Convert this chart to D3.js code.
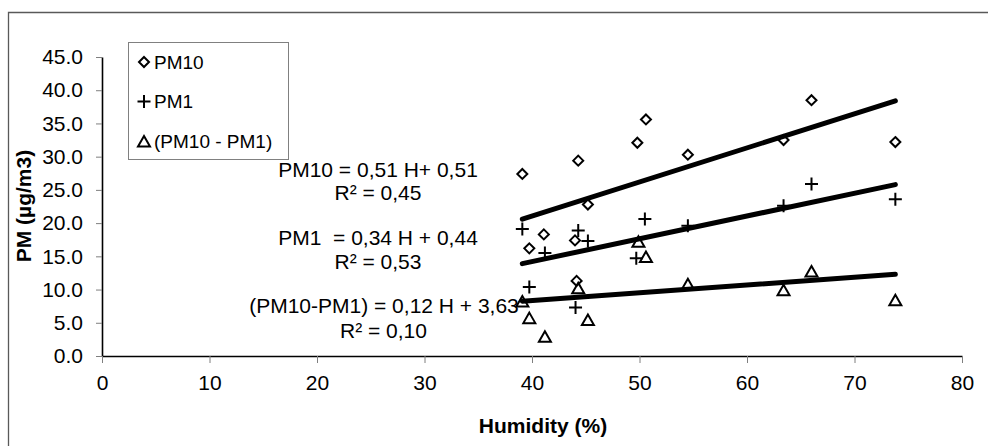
<!DOCTYPE html>
<html>
<head>
<meta charset="utf-8">
<script src="https://cdn.jsdelivr.net/npm/d3@7/dist/d3.min.js"></script>
<style>
  html, body { margin: 0; padding: 0; background: #fff; }
  svg { display: block; font-family: "Liberation Sans", Arial, sans-serif; }
  text { white-space: pre; }
</style>
</head>
<body>
<svg id="chart" width="988" height="446"></svg>
<script>
// ---- Data ----
const xTicks = [0, 10, 20, 30, 40, 50, 60, 70, 80];
const yTicks = [0, 5, 10, 15, 20, 25, 30, 35, 40, 45];

const pm10H   = [39.1, 39.75, 41.1, 44.0, 44.15, 44.3, 45.2, 49.8, 50.6, 54.5, 63.4, 66.0, 73.8];
const pm10Val = [27.4, 16.2, 18.3, 17.4, 11.3, 29.4, 22.8, 32.1, 35.6, 30.3, 32.5, 38.5, 32.2];

const pm1H    = [39.1, 39.75, 41.2, 44.05, 44.3, 45.2, 49.7, 50.5, 54.5, 63.4, 66.0, 73.8];
const pm1Val  = [19.1, 10.4, 15.5, 7.3, 18.9, 17.3, 14.7, 20.6, 19.6, 22.6, 25.9, 23.6];

const diffH   = [39.1, 39.75, 41.2, 44.3, 45.2, 49.9, 50.6, 54.5, 63.4, 66.0, 73.8];
const diffVal = [8.2, 5.7, 2.9, 10.2, 5.4, 17.2, 14.9, 10.8, 9.9, 12.7, 8.4];

// Linear trend lines (start / end values)
const trendNames = ["PM10", "PM1", "(PM10 - PM1)"];
const trendH     = [39.1, 73.8];
const trendStart = [20.6, 13.9, 8.25];
const trendEnd   = [38.4, 25.8, 12.3];

const eqLines = [
  "PM10 = 0,51 H+ 0,51", "R\u00B2 = 0,45",
  "PM1  = 0,34 H + 0,44", "R\u00B2 = 0,53",
  "(PM10-PM1) = 0,12 H + 3,63", "R\u00B2 = 0,10"
];
const legendLabels = ["PM10", "PM1", "(PM10 - PM1)"];
const xTitle = "Humidity (%)";
const yTitle = "PM (\u00B5g/m3)";

// ---- Drawing ----
const svg = d3.select("#chart");
const x = d3.scaleLinear().domain([0, 80]).range([102, 962]);
const y = d3.scaleLinear().domain([0, 45]).range([356, 57]);

// outer frame (only top and left visible)
svg.append("path")
  .attr("d", "M8.5,446 L8.5,12.5 L988,12.5")
  .attr("fill", "none").attr("stroke", "#595959").attr("stroke-width", 1.3);

// axes
const yAxis = d3.axisLeft(y).tickValues(yTicks).tickFormat(d3.format(".1f"))
  .tickSize(6).tickSizeOuter(0).tickPadding(13);
const gy = svg.append("g").attr("transform", "translate(102,0)").call(yAxis);

const xAxis = d3.axisBottom(x).tickValues(xTicks).tickFormat(d3.format("d"))
  .tickSize(7).tickSizeOuter(0).tickPadding(12);
const gx = svg.append("g").attr("transform", "translate(0,356)").call(xAxis);

[gx, gy].forEach(g => {
  g.select(".domain").attr("stroke", "#000").attr("stroke-width", 1.6);
  g.selectAll(".tick line").attr("stroke", "#7f7f7f").attr("stroke-width", 1);
  g.selectAll(".tick text").attr("fill", "#000")
    .style("font-family", '"Liberation Sans", Arial, sans-serif').style("font-size", "21px");
});

// axis titles
svg.append("text").attr("x", 543).attr("y", 433).attr("text-anchor", "middle")
  .style("font-weight", "bold").style("font-size", "21px").text(xTitle);
svg.append("text").attr("transform", "translate(31,206) rotate(-90)")
  .attr("text-anchor", "middle").style("font-weight", "bold").style("font-size", "21px").text(yTitle);

// trend lines
const line = d3.line().x(d => x(d[0])).y(d => y(d[1]));
trendNames.forEach((n, i) => {
  svg.append("path")
    .datum([[trendH[0], trendStart[i]], [trendH[1], trendEnd[i]]])
    .attr("d", line).attr("fill", "none").attr("stroke", "#000")
    .attr("stroke-width", 5).attr("stroke-linecap", "round");
});

// marker shapes
const diamondPath = "M0,-5 L5,0 L0,5 L-5,0 Z";
const plusPath = "M-6.5,0 L6.5,0 M0,-6.5 L0,6.5";
const triPath = "M0,-5.5 L6,5 L-6,5 Z";

function drawMarkers(hs, vs, path) {
  svg.append("g").selectAll("path").data(hs.map((h, i) => [h, vs[i]])).join("path")
    .attr("transform", d => `translate(${x(d[0])},${y(d[1])})`)
    .attr("d", path).attr("fill", "none").attr("stroke", "#000").attr("stroke-width", 2);
}
drawMarkers(pm10H, pm10Val, diamondPath);
drawMarkers(pm1H, pm1Val, plusPath);
drawMarkers(diffH, diffVal, triPath);

// equation labels
const eqPos = [[378, 176.5], [378, 200], [378, 244.5], [378, 268.5], [384, 313], [383.5, 337.5]];
svg.append("g").selectAll("text").data(eqLines).join("text")
  .attr("x", (d, i) => eqPos[i][0]).attr("y", (d, i) => eqPos[i][1])
  .attr("text-anchor", "middle").style("font-size", "21px").attr("fill", "#000")
  .text(d => d);

// legend
const lg = svg.append("g");
lg.append("rect").attr("x", 128.5).attr("y", 42.5).attr("width", 160).attr("height", 117)
  .attr("fill", "#fff").attr("stroke", "#808080").attr("stroke-width", 1);
const legendPaths = [diamondPath, plusPath, triPath];
const legendY = [62, 101.5, 141.5];
legendLabels.forEach((lab, i) => {
  lg.append("path").attr("transform", `translate(144,${legendY[i]})`)
    .attr("d", legendPaths[i]).attr("fill", "none").attr("stroke", "#000").attr("stroke-width", 2);
  lg.append("text").attr("x", 154).attr("y", legendY[i] + 6.5)
    .style("font-size", "19px").attr("fill", "#000").text(lab);
});
</script>
</body>
</html>
